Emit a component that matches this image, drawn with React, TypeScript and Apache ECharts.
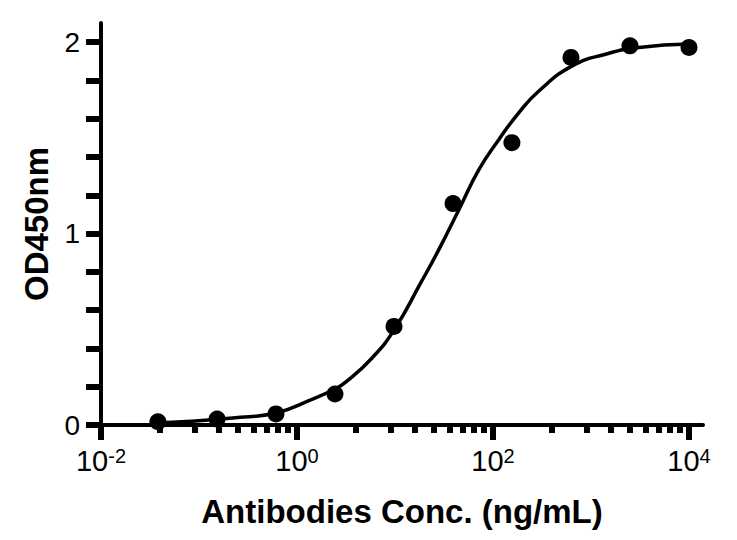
import React, { useEffect, useRef } from "react";
import * as echarts from "echarts";

// measured points: 4-fold dilution series (ng/mL) and OD450
const concentrations = [0.0381, 0.153, 0.61, 2.44, 9.77, 39.1, 156, 625, 2500, 10000];
const od450 = [0.017, 0.031, 0.058, 0.162, 0.515, 1.157, 1.475, 1.92, 1.981, 1.972];

// fitted curve
const curveX = [0.038, 0.074, 0.22, 0.61, 1.42, 2.44, 3.16, 5.8, 9.8, 18.3, 28, 45, 72, 115, 184, 294, 644, 1410, 3090, 10000];
const curveY = [0.01, 0.018, 0.037, 0.063, 0.134, 0.188, 0.225, 0.349, 0.497, 0.742, 0.916, 1.126, 1.335, 1.492, 1.632, 1.745, 1.876, 1.937, 1.972, 1.99];

const xMajorTicks = [0.01, 1, 100, 10000];
const xMinorTicks = [
    0.04, 0.09, 0.16, 0.25, 0.36, 0.49, 0.64, 0.81,
    4, 9, 16, 25, 36, 49, 64, 81,
    400, 900, 1600, 2500, 3600, 4900, 6400, 8100
];
const yTicks = [0, 0.2, 0.4, 0.6, 0.8, 1, 1.2, 1.4, 1.6, 1.8, 2];
const yLabels = [0, 1, 2];

const FONT = "'Liberation Sans', Arial, sans-serif";

const App: React.FC = () => {
    const chartRef = useRef<HTMLDivElement>(null);

    useEffect(() => {
        if (!chartRef.current) return;
        const chart = echarts.init(chartRef.current, undefined, { renderer: "svg" });

        const axisLine = { show: true, onZero: false, lineStyle: { color: "#000", width: 4 } };
        const tickStyle = { color: "#000", width: 6 };

        chart.setOption({
            animation: false,
            backgroundColor: "#fff",
            grid: { left: 101, right: 34, top: 23, bottom: 115, containLabel: false },
            xAxis: [
                {
                    type: "log",
                    position: "bottom",
                    min: 0.01,
                    max: 13900,
                    axisLine,
                    splitLine: { show: false },
                    minorTick: { show: false },
                    axisTick: {
                        show: true,
                        customValues: xMajorTicks,
                        length: 15,
                        lineStyle: tickStyle
                    },
                    axisLabel: {
                        customValues: xMajorTicks,
                        margin: 21,
                        color: "#000",
                        fontFamily: FONT,
                        formatter: (v: number) => `{b|10}{e|${Math.round(Math.log10(v))}}`,
                        rich: {
                            b: { fontSize: 29, fontFamily: FONT, color: "#000", lineHeight: 29 },
                            e: { fontSize: 20, fontFamily: FONT, color: "#000", verticalAlign: "top", lineHeight: 20 }
                        }
                    },
                    name: "Antibodies Conc. (ng/mL)",
                    nameLocation: "middle",
                    nameGap: 70,
                    nameTextStyle: { fontSize: 33, fontWeight: "bold", color: "#000", fontFamily: FONT }
                },
                {
                    type: "log",
                    position: "bottom",
                    min: 0.01,
                    max: 13900,
                    axisLine: { show: false, onZero: false },
                    splitLine: { show: false },
                    axisLabel: { show: false },
                    axisTick: {
                        show: true,
                        customValues: xMinorTicks,
                        length: 8,
                        lineStyle: tickStyle
                    }
                }
            ],
            yAxis: {
                type: "value",
                min: 0,
                max: 2.1,
                axisLine,
                splitLine: { show: false },
                axisTick: {
                    show: true,
                    customValues: yTicks,
                    length: 15,
                    lineStyle: tickStyle
                },
                axisLabel: {
                    customValues: yLabels,
                    margin: 21,
                    fontSize: 28,
                    color: "#000",
                    fontFamily: FONT
                },
                name: "OD450nm",
                nameLocation: "middle",
                nameGap: 48,
                nameTextStyle: { fontSize: 33, fontWeight: "bold", color: "#000", fontFamily: FONT }
            },
            series: [
                {
                    type: "line",
                    data: curveX.map((x, i) => [x, curveY[i]]),
                    smooth: 0.5,
                    showSymbol: false,
                    lineStyle: { color: "#000", width: 3.5 },
                    z: 2
                },
                {
                    type: "scatter",
                    data: concentrations.map((x, i) => [x, od450[i]]),
                    symbol: "circle",
                    symbolSize: 17,
                    itemStyle: { color: "#000", opacity: 1 },
                    z: 3
                }
            ]
        });

        return () => {
            chart.dispose();
        };
    }, []);

    return (
        <div
            ref={chartRef}
            style={{ position: "absolute", left: 0, top: 0, width: "737px", height: "540px" }}
        />
    );
};

export default App;
